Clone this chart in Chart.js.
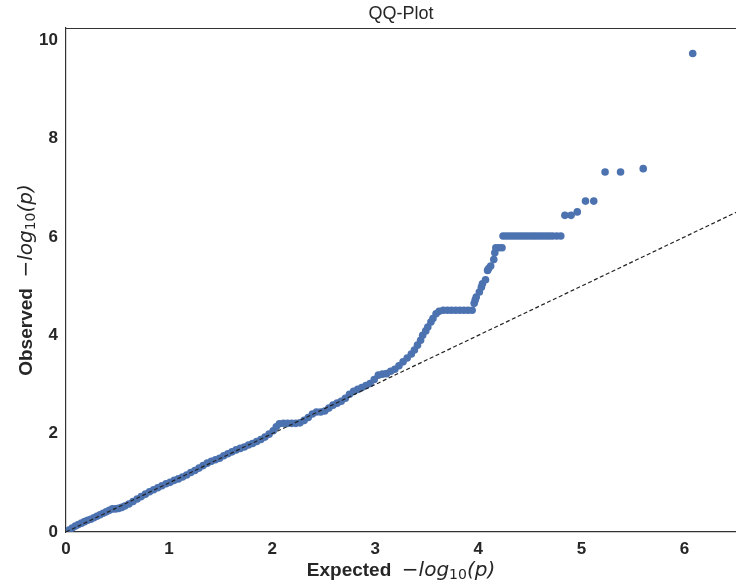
<!DOCTYPE html>
<html>
<head>
<meta charset="utf-8">
<script src="https://cdn.jsdelivr.net/npm/chart.js@4.4.1/dist/chart.umd.min.js"></script>
<style>
  body { margin: 0; background: #fff; }
  canvas { display: block; }
</style>
</head>
<body>
<canvas id="qq" width="736" height="587"></canvas>
<script>
// expected vs observed -log10(p)
const expected = [
  0.00, 0.03, 0.06, 0.09, 0.12, 0.15, 0.18, 0.21, 0.24, 0.27, 0.30, 0.33, 0.36, 0.39, 0.42, 0.45, 0.48, 0.51, 0.54,
  0.57, 0.61, 0.65, 0.69, 0.73, 0.77, 0.81, 0.85, 0.89, 0.93, 0.97, 1.01, 1.05,
  1.09, 1.13, 1.17, 1.21, 1.25, 1.29, 1.33, 1.37, 1.41, 1.45, 1.49, 1.53, 1.57, 1.61, 1.65, 1.69, 1.73, 1.77,
  1.81, 1.85, 1.89, 1.93, 1.97, 2.01, 2.04,
  2.07, 2.11, 2.15, 2.19, 2.23, 2.27,
  2.31, 2.35, 2.39, 2.43, 2.47, 2.51, 2.55, 2.59, 2.63, 2.67, 2.71, 2.75, 2.79, 2.83, 2.87, 2.91, 2.95, 2.99,
  3.03, 3.07, 3.11, 3.15, 3.19, 3.23, 3.27, 3.31, 3.35, 3.38, 3.41, 3.44, 3.46, 3.49, 3.51, 3.54, 3.56, 3.59, 3.62,
  3.66, 3.70, 3.74, 3.78, 3.82, 3.86, 3.90, 3.94,
  3.96, 3.97, 3.98, 4.01, 4.03, 4.04, 4.07, 4.09, 4.10, 4.12, 4.15, 4.16, 4.17, 4.20, 4.23,
  4.24, 4.27, 4.30, 4.33, 4.36, 4.39, 4.42, 4.45, 4.48, 4.51, 4.54, 4.57, 4.60, 4.63, 4.66, 4.69, 4.72, 4.76, 4.80,
  4.84, 4.90, 4.96, 5.04, 5.12, 5.23, 5.38, 5.60, 6.08
];
const observed = [
  0.00, 0.04, 0.08, 0.12, 0.15, 0.18, 0.21, 0.24, 0.26, 0.29, 0.32, 0.35, 0.38, 0.41, 0.44, 0.47, 0.47, 0.48, 0.50,
  0.53, 0.57, 0.62, 0.67, 0.72, 0.77, 0.82, 0.86, 0.90, 0.94, 0.98, 1.01, 1.05,
  1.08, 1.12, 1.16, 1.21, 1.25, 1.30, 1.35, 1.40, 1.44, 1.47, 1.50, 1.55, 1.59, 1.63, 1.67, 1.70, 1.73, 1.77,
  1.80, 1.84, 1.88, 1.93, 1.99, 2.06, 2.14,
  2.20, 2.21, 2.21, 2.21, 2.21, 2.22,
  2.27, 2.33, 2.40, 2.44, 2.44, 2.46, 2.52, 2.58, 2.62, 2.66, 2.72, 2.80, 2.86, 2.90, 2.94, 2.98, 3.02, 3.10,
  3.19, 3.21, 3.22, 3.27, 3.31, 3.38, 3.46, 3.54, 3.62, 3.70, 3.80, 3.90, 4.00, 4.09, 4.17, 4.27, 4.34, 4.44, 4.49,
  4.51, 4.51, 4.51, 4.51, 4.51, 4.51, 4.51, 4.51,
  4.65, 4.72, 4.78, 4.88, 4.98, 5.05, 5.13, 5.32, 5.36, 5.41, 5.54, 5.68, 5.78, 5.78, 5.78,
  6.02, 6.02, 6.02, 6.02, 6.02, 6.02, 6.02, 6.02, 6.02, 6.02, 6.02, 6.02, 6.02, 6.02, 6.02, 6.02, 6.02, 6.02, 6.02,
  6.44, 6.44, 6.51, 6.73, 6.73, 7.32, 7.32, 7.39, 9.73
];

// y = x reference line
const diagX = [0, 6.5];
const diagY = [0, 6.5];

const xTicks = [0, 1, 2, 3, 4, 5, 6];
const yTicks = [0, 2, 4, 6, 8, 10];

const titleText = 'QQ-Plot';
const xLabel = 'Expected';
const yLabel = 'Observed';

const ink = '#262626';
const tickFont = { family: "'Liberation Sans', Arial, sans-serif", size: 17, weight: 'bold' };

// draws "Label  −log10(p)" with a real subscript
const drawMathLabel = (ctx, label, cx, cy) => {
  const boldF = "bold 19px 'Liberation Sans', Arial, sans-serif";
  const itF = "italic 20px 'DejaVu Sans', sans-serif";
  const subF = "14px 'DejaVu Sans', sans-serif";
  const parts = [
    { t: label, f: boldF, dy: 0 },
    { t: '  ', f: boldF, dy: 0 },
    { t: '\u2212', f: "20px 'DejaVu Sans', sans-serif", dy: 0 },
    { t: 'log', f: itF, dy: 0 },
    { t: '10', f: subF, dy: 4 },
    { t: '(p)', f: itF, dy: 0 }
  ];
  let total = 0;
  parts.forEach(p => { ctx.font = p.f; p.w = ctx.measureText(p.t).width; total += p.w; });
  let x = cx - total / 2;
  ctx.fillStyle = ink;
  ctx.textBaseline = 'middle';
  ctx.textAlign = 'left';
  parts.forEach(p => {
    ctx.font = p.f;
    ctx.fillText(p.t, x, cy + p.dy);
    x += p.w;
  });
};

const labelsPlugin = {
  id: 'labels',
  afterDraw(chart) {
    const { ctx, chartArea } = chart;
    const midX = (chartArea.left + chartArea.right) / 2;
    const midY = (chartArea.top + chartArea.bottom) / 2;
    ctx.save();
    // top spine
    ctx.strokeStyle = '#333';
    ctx.lineWidth = 1.2;
    ctx.beginPath();
    ctx.moveTo(chartArea.left, chartArea.top + 0.5);
    ctx.lineTo(chartArea.right, chartArea.top + 0.5);
    ctx.stroke();

    ctx.fillStyle = ink;
    ctx.font = "18px 'Liberation Sans', Arial, sans-serif";
    ctx.textAlign = 'center';
    ctx.textBaseline = 'middle';
    ctx.fillText(titleText, midX, 14);

    drawMathLabel(ctx, xLabel, midX, 571);

    ctx.translate(27, midY);
    ctx.rotate(-Math.PI / 2);
    drawMathLabel(ctx, yLabel, 0, 0);
    ctx.restore();
  }
};

const ctx = document.getElementById('qq');
new Chart(ctx, {
  type: 'scatter',
  data: {
    datasets: [
      {
        type: 'line',
        data: diagX.map((x, i) => ({ x, y: diagY[i] })),
        borderColor: '#222',
        borderWidth: 1.2,
        borderDash: [4, 2.5],
        pointRadius: 0,
        fill: false
      },
      {
        data: expected.map((x, i) => ({ x, y: observed[i] })),
        backgroundColor: '#4c72b0',
        borderColor: '#4c72b0',
        borderWidth: 0,
        pointRadius: 3.8,
        clip: 0
      }
    ]
  },
  options: {
    responsive: false,
    animation: false,
    layout: { autoPadding: false, padding: { top: 28, right: 0, left: 0, bottom: 0 } },
    plugins: {
      legend: { display: false },
      tooltip: { enabled: false }
    },
    scales: {
      x: {
        type: 'linear',
        min: 0,
        max: 6.5,
        afterBuildTicks: s => { s.ticks = xTicks.map(v => ({ value: v })); },
        afterFit: s => { s.height = 55; s.paddingLeft = 0; s.paddingRight = 0; },
        grid: { display: false, drawTicks: false },
        border: { display: true, color: '#333', width: 1.2 },
        ticks: { font: tickFont, color: ink, padding: 7, maxRotation: 0 }
      },
      y: {
        type: 'linear',
        min: 0,
        max: 10.25,
        afterBuildTicks: s => { s.ticks = yTicks.map(v => ({ value: v })); },
        afterFit: s => { s.width = 66; s.paddingTop = 0; s.paddingBottom = 0; },
        grid: { display: false, drawTicks: false },
        border: { display: true, color: '#333', width: 1.2 },
        ticks: { font: tickFont, color: ink, padding: 8 }
      }
    }
  },
  plugins: [labelsPlugin]
});
</script>
</body>
</html>
